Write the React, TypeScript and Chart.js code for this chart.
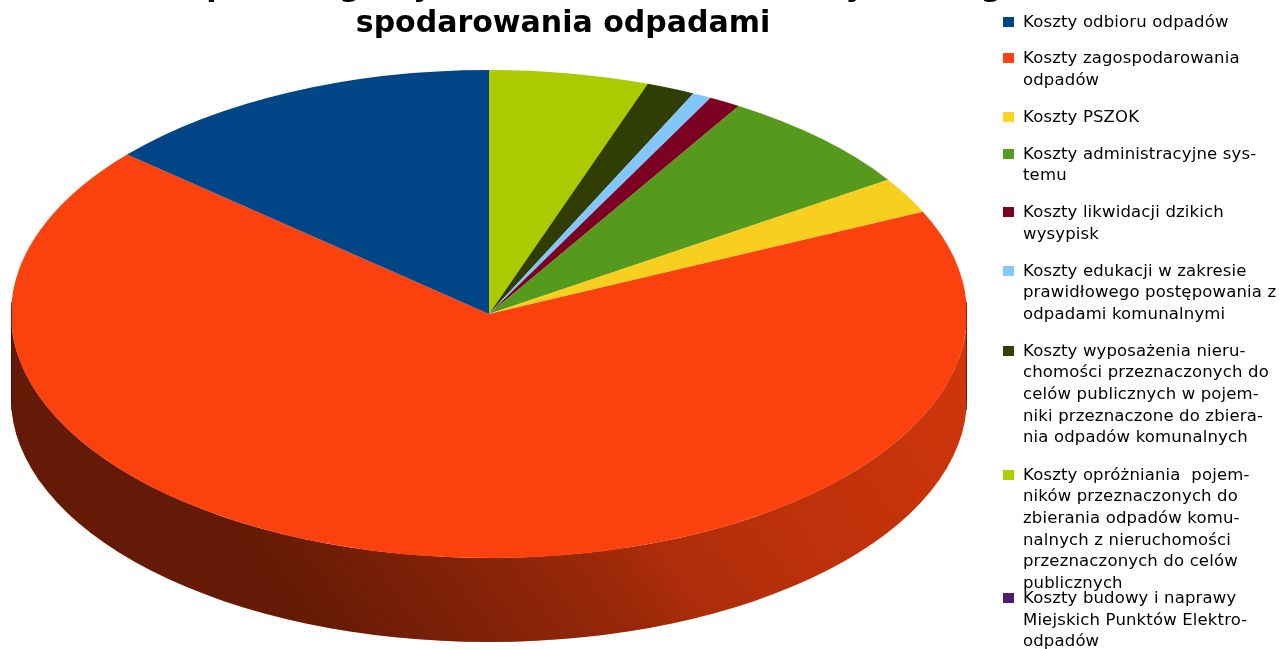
import React, { useEffect, useRef } from "react";
import { Chart, registerables } from "chart.js";

Chart.register(...registerables);

const titleLines = ["Udział poszczególnych kosztów w kosztach systemu go-", "spodarowania odpadami"];

const categories = [
  "Koszty odbioru odpadów",
  "Koszty zagospodarowania odpadów",
  "Koszty PSZOK",
  "Koszty administracyjne systemu",
  "Koszty likwidacji dzikich wysypisk",
  "Koszty edukacji w zakresie prawidłowego postępowania z odpadami komunalnymi",
  "Koszty wyposażenia nieruchomości przeznaczonych do celów publicznych w pojemniki przeznaczone do zbierania odpadów komunalnych",
  "Koszty opróżniania  pojemników przeznaczonych do zbierania odpadów komunalnych z nieruchomości przeznaczonych do celów publicznych",
  "Koszty budowy i naprawy Miejskich Punktów Elektroodpadów",
];

const legendLines = [
  ["Koszty odbioru odpadów"],
  ["Koszty zagospodarowania", "odpadów"],
  ["Koszty PSZOK"],
  ["Koszty administracyjne sys-", "temu"],
  ["Koszty likwidacji dzikich", "wysypisk"],
  ["Koszty edukacji w zakresie", "prawidłowego postępowania z", "odpadami komunalnymi"],
  ["Koszty wyposażenia nieru-", "chomości przeznaczonych do", "celów publicznych w pojem-", "niki przeznaczone do zbiera-", "nia odpadów komunalnych"],
  ["Koszty opróżniania  pojem-", "ników przeznaczonych do", "zbierania odpadów komu-", "nalnych z nieruchomości", "przeznaczonych do celów", "publicznych"],
  ["Koszty budowy i naprawy", "Miejskich Punktów Elektro-", "odpadów"],
];

const shares = [13.67, 68.22, 2.39, 6.97, 1.08, 0.64, 1.64, 5.39, 0];
const sliceColors = ["#004586", "#fb410e", "#f9cf1f", "#559a1c", "#7b0021", "#81c7fb", "#303e04", "#abcb00", "#4b1f6f"];
const legendColors = ["#004586", "#ff420e", "#ffd320", "#579d1c", "#7e0021", "#83caff", "#314004", "#aecf00", "#4b1f6f"];

const legendFirstLineCenter = [21.5, 58.3, 116.8, 153.8, 212.3, 270.5, 350.7, 474.5, 598];

const CANVAS_OFFSET = 40;
const PIE = { cx: 489, cy: 314 + CANVAS_OFFSET, rx: 478, ry: 244, depth: 84 };

const tiltedPie = {
  id: "tiltedPie",
  beforeDatasetsDraw(chart: any) {
    const { ctx } = chart;
    const arcs = chart.getDatasetMeta(0).data as any[];
    const { cx, cy, rx, ry, depth } = PIE;
    const shade = ctx.createLinearGradient(300, 680 + CANVAS_OFFSET, 960, 200 + CANVAS_OFFSET);
    shade.addColorStop(0, "rgba(0,0,0,0.6)");
    shade.addColorStop(0.05, "rgba(0,0,0,0.6)");
    shade.addColorStop(0.373, "rgba(0,0,0,0.39)");
    shade.addColorStop(0.45, "rgba(0,0,0,0.31)");
    shade.addColorStop(0.6, "rgba(0,0,0,0.25)");
    shade.addColorStop(0.86, "rgba(0,0,0,0.18)");
    shade.addColorStop(1, "rgba(0,0,0,0.14)");
    arcs.forEach((arc) => {
      const s = Math.max(arc.startAngle, 0);
      const e = Math.min(arc.endAngle, Math.PI);
      if (e <= s) return;
      [arc.options.backgroundColor, shade].forEach((fill) => {
        ctx.beginPath();
        ctx.ellipse(cx, cy, rx, ry, 0, s, e);
        ctx.ellipse(cx, cy + depth, rx, ry, 0, e, s, true);
        ctx.closePath();
        ctx.fillStyle = fill;
        ctx.fill();
      });
    });
    const { x, y, outerRadius } = arcs[0];
    ctx.save();
    ctx.translate(cx, cy);
    ctx.scale(rx / outerRadius, ry / outerRadius);
    ctx.translate(-x, -y);
  },
  afterDatasetsDraw(chart: any) {
    const { ctx } = chart;
    ctx.restore();
    const { cx, cy, rx, depth } = PIE;
    ctx.strokeStyle = "rgba(40,10,0,0.6)";
    ctx.lineWidth = 1;
    [cx - rx + 0.5, cx + rx - 0.5].forEach((edge) => {
      ctx.beginPath();
      ctx.moveTo(edge, cy - 12);
      ctx.lineTo(edge, cy + depth + 12);
      ctx.stroke();
    });
  },
};

export default function App() {
  const ref = useRef<HTMLCanvasElement>(null);
  useEffect(() => {
    const chart = new Chart(ref.current!, {
      type: "pie",
      data: {
        labels: [...categories].reverse(),
        datasets: [
          {
            data: [...shares].reverse(),
            backgroundColor: [...sliceColors].reverse(),
            borderWidth: 0,
            clip: false,
          } as any,
        ],
      },
      options: {
        responsive: false,
        animation: false,
        layout: { padding: { right: 153 } },
        plugins: {
          legend: { display: false },
          tooltip: { enabled: false },
          title: {
            display: true,
            fullSize: false,
            text: titleLines,
            color: "#000000",
            font: { family: "'DejaVu Sans'", size: 30, weight: "bold", lineHeight: 1.18 },
            padding: { top: 10.8, bottom: 10 },
          },
        },
      },
      plugins: [tiltedPie],
    } as any);
    return () => chart.destroy();
  }, []);

  return (
    <div style={{ position: "fixed", left: 0, top: 0, width: 1279, height: 649, overflow: "hidden", background: "#fff" }}>
      <canvas ref={ref} width={1279} height={649 + CANVAS_OFFSET} style={{ position: "absolute", left: 0, top: -CANVAS_OFFSET, width: 1279, height: 649 + CANVAS_OFFSET }} />
      {legendLines.map((lines, i) => (
        <React.Fragment key={i}>
          <div style={{ position: "absolute", left: 1003, top: legendFirstLineCenter[i] - 5, width: 11, height: 10, background: legendColors[i] }} />
          <div style={{ position: "absolute", left: 1023, top: legendFirstLineCenter[i] - 11, font: "16.5px/21.67px 'DejaVu Sans'", letterSpacing: 0.15, color: "#000", whiteSpace: "pre" }}>
            {lines.join("\n")}
          </div>
        </React.Fragment>
      ))}
    </div>
  );
}
